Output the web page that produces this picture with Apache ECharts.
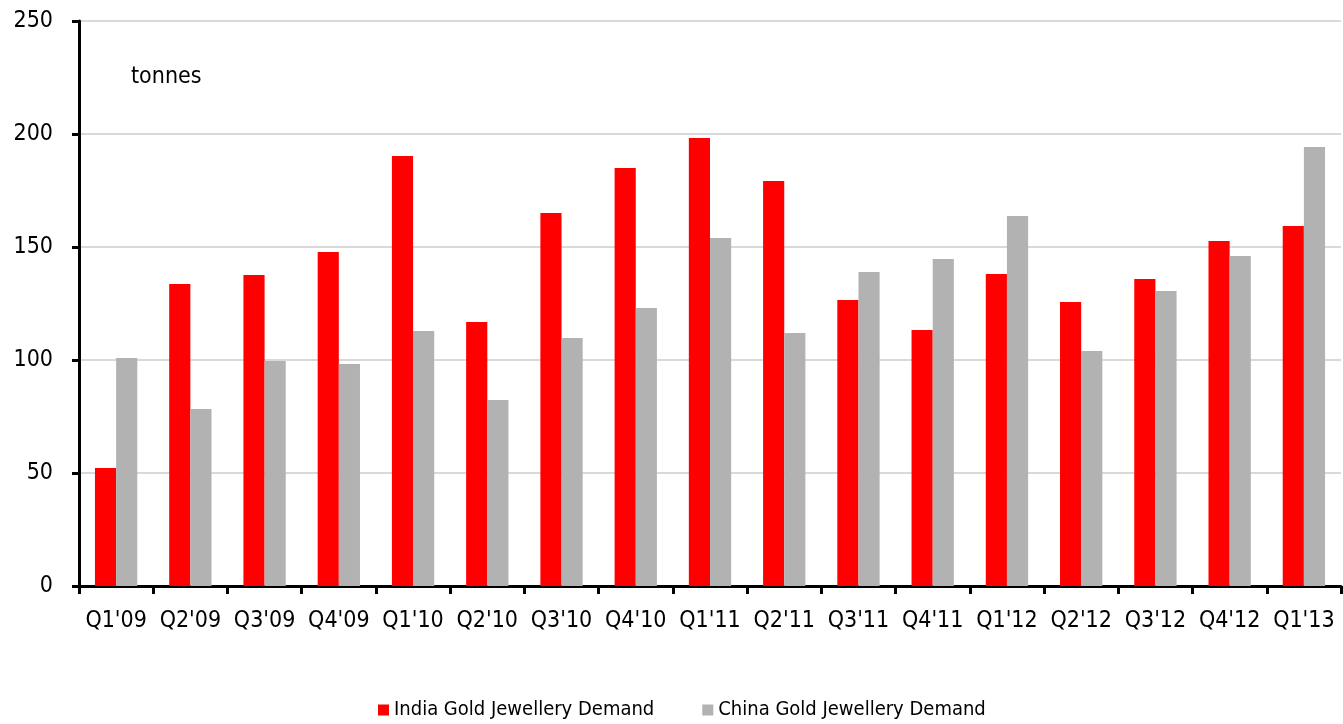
<!DOCTYPE html>
<html>
<head>
<meta charset="utf-8">
<script src="https://cdn.jsdelivr.net/npm/echarts@6/dist/echarts.min.js"></script>
<style>
  html, body { margin: 0; padding: 0; background: #fff; }
  #chart { width: 1343px; height: 724px; }
</style>
</head>
<body>
<div id="chart"></div>
<script>
// Quarterly gold jewellery demand, tonnes
const quarters = ["Q1'09", "Q2'09", "Q3'09", "Q4'09", "Q1'10", "Q2'10", "Q3'10", "Q4'10", "Q1'11",
  "Q2'11", "Q3'11", "Q4'11", "Q1'12", "Q2'12", "Q3'12", "Q4'12", "Q1'13"];
const indiaDemand = [52.2, 133.6, 137.6, 147.8, 190.3, 116.8, 165.0, 185.0, 198.2,
  179.2, 126.5, 113.3, 138.0, 125.7, 135.8, 152.7, 159.3];
const chinaDemand = [100.9, 78.3, 99.6, 98.2, 112.8, 82.3, 109.7, 123.0, 154.0,
  112.0, 138.9, 144.7, 163.7, 104.0, 130.5, 146.0, 194.2];
const yTicks = [0, 50, 100, 150, 200, 250];

const FONT = '"Liberation Sans Narrow", "Arial Narrow", "DejaVu Sans Condensed", sans-serif';

const chart = echarts.init(document.getElementById('chart'), null, { renderer: 'canvas' });
chart.setOption({
  animation: false,
  backgroundColor: '#ffffff',
  textStyle: { fontFamily: FONT },
  grid: { left: 79, right: 2, top: 21, bottom: 138, containLabel: false },
  legend: {
    top: 695,
    left: 373,
    itemWidth: 11,
    itemHeight: 11,
    itemGap: 48,
    icon: 'rect',
    textStyle: { fontFamily: FONT, fontSize: 20, color: '#000' },
    data: ['India Gold Jewellery Demand', 'China Gold Jewellery Demand']
  },
  graphic: [{
    type: 'text',
    left: 131,
    top: 66,
    style: { text: 'tonnes', fontFamily: FONT, fontSize: 23, fill: '#000' }
  }],
  xAxis: {
    type: 'category',
    data: quarters,
    boundaryGap: true,
    axisLine: { lineStyle: { color: '#000', width: 3 } },
    axisTick: { show: true, length: 8, lineStyle: { color: '#000', width: 3 } },
    axisLabel: { color: '#000', fontSize: 23, fontFamily: FONT, margin: 24, interval: 0 }
  },
  yAxis: {
    type: 'value',
    min: yTicks[0],
    max: yTicks[yTicks.length - 1],
    interval: 50,
    axisLine: { show: true, lineStyle: { color: '#000', width: 3 } },
    axisTick: { show: true, length: 7, lineStyle: { color: '#000', width: 3 } },
    axisLabel: { color: '#000', fontSize: 23, fontFamily: FONT, margin: 26 },
    splitLine: { show: true, lineStyle: { color: '#d9d9d9', width: 2 } }
  },
  series: [
    {
      name: 'India Gold Jewellery Demand',
      type: 'bar',
      data: indiaDemand,
      barGap: '0%',
      barCategoryGap: '43%',
      itemStyle: { color: '#ff0000' }
    },
    {
      name: 'China Gold Jewellery Demand',
      type: 'bar',
      data: chinaDemand,
      barGap: '0%',
      barCategoryGap: '43%',
      itemStyle: { color: '#b2b2b2' }
    }
  ]
});
</script>
</body>
</html>
